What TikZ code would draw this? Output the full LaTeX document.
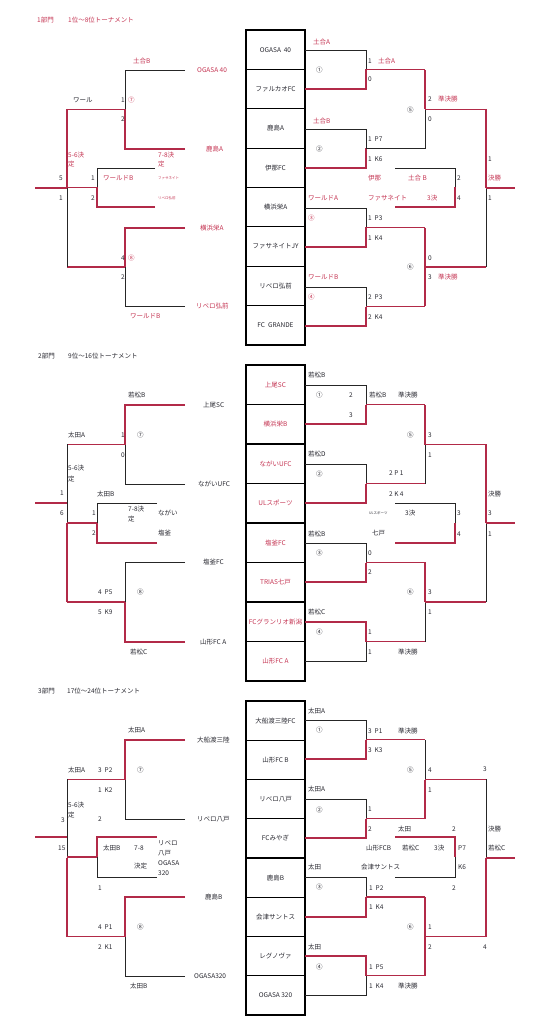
\documentclass[tikz,border=0pt]{standalone}
\usepackage{fontspec}
\setmainfont{Noto Sans CJK JP}
\usetikzlibrary{positioning}
\definecolor{linered}{RGB}{178,42,72}
\definecolor{textred}{RGB}{196,52,82}
\definecolor{textdark}{RGB}{40,40,48}

% one match: in-lines from #1 to #2 at rows #3/#4, out-line to #5
\newcommand{\match}[8]{%
  \draw[#6] (#1,#3) -- (#2,#3) -- (#2,{(#3+#4)/2});
  \draw[#7] (#1,#4) -- (#2,#4) -- (#2,{(#3+#4)/2});
  \draw[#8] (#2,{(#3+#4)/2}) -- (#5,{(#3+#4)/2});}

\begin{document}
\begin{tikzpicture}[x=1pt, y=-1pt,
    loseline/.style={draw=black!85, line width=0.6pt},
    winline/.style={draw=linered, line width=1.4pt},
    noline/.style={draw=none},
    lbl/.style={font=\fontsize{6.5}{7}\selectfont, inner sep=0pt, anchor=west, text=textdark},
    rlbl/.style={lbl, text=textred},
    tinylbl/.style={lbl, font=\fontsize{3.5}{4}\selectfont, text=textred},
    team/.style={font=\fontsize{6.5}{7}\selectfont, inner sep=0pt, text=textdark},
    rteam/.style={team, text=textred},
    box/.style={draw=black, line width=1.4pt},
    ]
    \useasboundingbox (0,0) rectangle (555,1024);

    % team boxes
    \foreach \top/\bot in {30/345, 365/681, 701/1015} {
      \draw[box] (246,\top) rectangle (305,\bot);
      \foreach \k in {1,...,7}
        \draw[line width=1.1pt] (246,{\top+(\bot-\top)*\k/8}) -- (305,{\top+(\bot-\top)*\k/8});
    }
    \foreach \t [count=\i] in {OGASA\ \ 40, ファルカオFC, 鹿島A, 伊那FC, 横浜栄A, ファサネイトJY, リベロ弘前, FC\ \ GRANDE}
      \node[team] (a\i) at (275.5,{30+39.375*(\i-0.5)}) {\t};
    \foreach \t [count=\i] in {上尾SC, 横浜栄B, ながいUFC, ULスポーツ, 塩釜FC, TRIAS七戸, FCグランリオ新潟, 山形FC A}
      \node[rteam] (b\i) at (275.5,{365+39.5*(\i-0.5)}) {\t};
    \foreach \t [count=\i] in {大船渡三陸FC, 山形FC B, リベロ八戸, FCみやぎ, 鹿島B, 会津サントス, レグノヴァ, OGASA 320}
      \node[team] (c\i) at (275.5,{701+39.25*(\i-0.5)}) {\t};

    % ---------- 1部門 ----------
    \node[rlbl] (u1) at (37,20) {1部門};
    \node[rlbl] (u2) at (68,20) {1位～8位トーナメント};
    % right side
    \match{305}{366}{50}{89}{425}{loseline}{winline}{winline}
    \match{305}{366}{129}{168}{425}{loseline}{winline}{loseline}
    \match{305}{366}{208}{247}{425}{loseline}{winline}{winline}
    \match{305}{366}{287}{326}{425}{loseline}{winline}{winline}
    \match{425}{425}{70}{149}{486}{winline}{loseline}{winline}
    \match{425}{425}{228}{306}{486}{winline}{winline}{winline}
    \match{486}{486}{109}{267}{515}{winline}{loseline}{winline}
    \match{395}{455}{168}{207}{455}{loseline}{winline}{noline}
    % left side
    \match{185}{125}{70}{149}{67}{loseline}{winline}{winline}
    \match{185}{125}{228}{306}{67}{winline}{loseline}{winline}
    \match{67}{67}{109}{267}{35}{winline}{loseline}{winline}
    \match{155}{97}{168}{207}{67}{loseline}{winline}{winline}
    % labels right
    \node[rlbl] (u3) at (313,42) {土合A};
    \node[lbl] (u4) at (316,70) {①};
    \node[lbl] (u5) at (368,61) {1};
    \node[rlbl] (u6) at (378,61) {土合A};
    \node[lbl] (u7) at (368,79) {0};
    \node[rlbl] (u8) at (313,121) {土合B};
    \node[lbl] (u9) at (316,149) {②};
    \node[lbl] (u10) at (368,139) {1\ \ P7};
    \node[lbl] (u11) at (368,159) {1\ \ K6};
    \node[lbl] (u12) at (407,110) {⑤};
    \node[lbl] (u13) at (428,99) {2};
    \node[rlbl] (u14) at (438,99) {準決勝};
    \node[lbl] (u15) at (428,119) {0};
    \node[lbl] (u16) at (488,159) {1};
    \node[rlbl] (u17) at (368,178) {伊那};
    \node[rlbl] (u18) at (408,178) {土合\ B};
    \node[lbl] (u19) at (457,178) {2};
    \node[rlbl] (u20) at (488,178) {決勝};
    \node[rlbl] (u21) at (308,198) {ワールドA};
    \node[rlbl] (u22) at (368,198) {ファサネイト};
    \node[rlbl] (u23) at (427,198) {3決};
    \node[lbl] (u24) at (457,198) {4};
    \node[lbl] (u25) at (488,198) {1};
    \node[rlbl] (u26) at (308,218) {③};
    \node[lbl] (u27) at (368,218) {1\ \ P3};
    \node[lbl] (u28) at (368,238) {1\ \ K4};
    \node[lbl] (u29) at (407,267) {⑥};
    \node[lbl] (u30) at (428,258) {0};
    \node[lbl] (u31) at (428,277) {3};
    \node[rlbl] (u32) at (438,277) {準決勝};
    \node[rlbl] (u33) at (308,277) {ワールドB};
    \node[rlbl] (u34) at (308,297) {④};
    \node[lbl] (u35) at (368,297) {2\ \ P3};
    \node[lbl] (u36) at (368,317) {2\ \ K4};
    % labels left
    \node[rlbl] (u37) at (133,61) {土合B};
    \node[rlbl] (u38) at (197,70) {OGASA\ 40};
    \node[lbl] (u39) at (73,100) {ワール};
    \node[lbl] (u40) at (121,100) {1};
    \node[rlbl] (u41) at (128,100) {⑦};
    \node[lbl] (u42) at (121,119) {2};
    \node[rlbl] (u43) at (206,149) {鹿島A};
    \node[rlbl] (u44) at (68,155) {5-6決};
    \node[rlbl] (u45) at (68,164) {定};
    \node[rlbl] (u46) at (158,155) {7-8決};
    \node[rlbl] (u47) at (158,164) {定};
    \node[lbl] (u48) at (59,178) {5};
    \node[lbl] (u49) at (59,198) {1};
    \node[lbl] (u50) at (91,178) {1};
    \node[rlbl] (u51) at (103,178) {ワールドB};
    \node[tinylbl] (u52) at (158,178) {ファサネイト};
    \node[lbl] (u53) at (91,198) {2};
    \node[tinylbl] (u54) at (158,198) {リベロ弘前};
    \node[rlbl] (u55) at (200,228) {横浜栄A};
    \node[lbl] (u56) at (121,258) {4};
    \node[rlbl] (u57) at (128,258) {⑧};
    \node[lbl] (u58) at (121,277) {2};
    \node[rlbl] (u59) at (196,306) {リベロ弘前};
    \node[rlbl] (u60) at (130,316) {ワールドB};

    % ---------- 2部門 ----------
    \node[lbl] (v1) at (38,356) {2部門};
    \node[lbl] (v2) at (68,356) {9位～16位トーナメント};
    % right side
    \match{305}{366}{385}{424}{425}{loseline}{winline}{winline}
    \match{305}{366}{464}{503}{425}{loseline}{winline}{winline}
    \match{425}{425}{405}{484}{486}{winline}{loseline}{winline}
    \match{305}{366}{543}{582}{425}{loseline}{winline}{winline}
    \match{305}{366}{622}{661}{425}{winline}{loseline}{winline}
    \match{425}{425}{562}{642}{486}{winline}{loseline}{winline}
    \match{486}{486}{444}{602}{515}{winline}{loseline}{winline}
    \match{395}{455}{503}{543}{455}{loseline}{winline}{noline}
    % left side
    \match{185}{125}{405}{484}{67}{winline}{loseline}{winline}
    \match{185}{125}{562}{642}{67}{loseline}{winline}{winline}
    \match{67}{67}{444}{602}{67}{loseline}{winline}{noline}
    \draw[winline] (67,503) -- (35,503);
    \match{157}{97}{503}{543}{67}{loseline}{winline}{winline}
    % labels right
    \node[lbl] (v3) at (308,375) {若松B};
    \node[lbl] (v4) at (316,395) {①};
    \node[lbl] (v5) at (349,395) {2};
    \node[lbl] (v6) at (349,415) {3};
    \node[lbl] (v7) at (369,395) {若松B};
    \node[lbl] (v8) at (398,395) {準決勝};
    \node[lbl] (v9) at (407,435) {⑤};
    \node[lbl] (v10) at (428,435) {3};
    \node[lbl] (v11) at (428,455) {1};
    \node[lbl] (v12) at (308,454) {若松D};
    \node[lbl] (v13) at (316,474) {②};
    \node[lbl] (v14) at (389,473) {2\ P\ 1};
    \node[lbl] (v15) at (389,494) {2\ K\ 4};
    \node[lbl] (v16) at (488,494) {決勝};
    \node[lbl] (v17) at (488,513) {3};
    \node[lbl] (v18) at (488,534) {1};
    \node[tinylbl, text=textdark] (v19) at (369,513) {ULスポーツ};
    \node[lbl] (v20) at (405,513) {3決};
    \node[lbl] (v21) at (457,513) {3};
    \node[lbl] (v22) at (457,534) {4};
    \node[lbl] (v23) at (372,533) {七戸};
    \node[lbl] (v24) at (308,534) {若松B};
    \node[lbl] (v25) at (316,553) {③};
    \node[lbl] (v26) at (368,553) {0};
    \node[lbl] (v27) at (368,572) {2};
    \node[lbl] (v28) at (407,592) {⑥};
    \node[lbl] (v29) at (428,592) {3};
    \node[lbl] (v30) at (428,612) {1};
    \node[lbl] (v31) at (308,612) {若松C};
    \node[lbl] (v32) at (316,632) {④};
    \node[lbl] (v33) at (368,632) {1};
    \node[lbl] (v34) at (368,652) {1};
    \node[lbl] (v35) at (398,652) {準決勝};
    % labels left
    \node[lbl] (v36) at (128,395) {若松B};
    \node[lbl] (v37) at (203,405) {上尾SC};
    \node[lbl] (v38) at (68,435) {太田A};
    \node[lbl] (v39) at (121,435) {1};
    \node[lbl] (v40) at (137,435) {⑦};
    \node[lbl] (v41) at (121,455) {0};
    \node[lbl] (v42) at (68,468) {5-6決};
    \node[lbl] (v43) at (68,479) {定};
    \node[lbl] (v44) at (198,484) {ながいUFC};
    \node[lbl] (v45) at (60,493) {1};
    \node[lbl] (v46) at (60,513) {6};
    \node[lbl] (v47) at (97,494) {太田B};
    \node[lbl] (v48) at (128,509) {7-8決};
    \node[lbl] (v49) at (128,519) {定};
    \node[lbl] (v50) at (92,513) {1};
    \node[lbl] (v51) at (158,513) {ながい};
    \node[lbl] (v52) at (92,533) {2};
    \node[lbl] (v53) at (158,533) {塩釜};
    \node[lbl] (v54) at (203,562) {塩釜FC};
    \node[lbl] (v55) at (98,592) {4\ \ P5};
    \node[lbl] (v56) at (137,592) {⑧};
    \node[lbl] (v57) at (98,612) {5\ \ K9};
    \node[lbl] (v58) at (200,642) {山形FC A};
    \node[lbl] (v59) at (130,652) {若松C};

    % ---------- 3部門 ----------
    \node[lbl] (w1) at (38,691) {3部門};
    \node[lbl] (w2) at (67,691) {17位～24位トーナメント};
    % right side
    \match{305}{366}{720}{759}{425}{loseline}{winline}{winline}
    \match{305}{366}{799}{838}{425}{loseline}{winline}{winline}
    \match{425}{425}{740}{819}{486}{loseline}{winline}{winline}
    \match{305}{366}{877}{917}{425}{loseline}{winline}{winline}
    \match{305}{366}{956}{995}{425}{winline}{loseline}{winline}
    \match{425}{425}{897}{976}{486}{winline}{winline}{winline}
    \match{486}{486}{779}{937}{515}{loseline}{winline}{winline}
    \match{395}{455}{837}{877}{455}{winline}{loseline}{noline}
    % left side
    \match{185}{125}{740}{819}{67}{winline}{loseline}{winline}
    \match{185}{125}{897}{976}{67}{winline}{loseline}{winline}
    \match{67}{67}{779}{937}{67}{loseline}{winline}{noline}
    \draw[winline] (67,837) -- (35,837);
    \match{157}{97}{837}{877}{67}{winline}{loseline}{winline}
    % labels right
    \node[lbl] (w3) at (308,711) {太田A};
    \node[lbl] (w4) at (316,730) {①};
    \node[lbl] (w5) at (368,731) {3\ \ P1};
    \node[lbl] (w6) at (398,731) {準決勝};
    \node[lbl] (w7) at (368,750) {3\ \ K3};
    \node[lbl] (w8) at (407,770) {⑤};
    \node[lbl] (w9) at (428,770) {4};
    \node[lbl] (w10) at (483,769) {3};
    \node[lbl] (w11) at (308,789) {太田A};
    \node[lbl] (w12) at (368,809) {1};
    \node[lbl] (w13) at (428,790) {1};
    \node[lbl] (w14) at (316,810) {②};
    \node[lbl] (w15) at (368,829) {2};
    \node[lbl] (w16) at (398,829) {太田};
    \node[lbl] (w17) at (452,829) {2};
    \node[lbl] (w18) at (488,829) {決勝};
    \node[lbl] (w19) at (366,848) {山形FCB};
    \node[lbl] (w20) at (402,848) {若松C};
    \node[lbl] (w21) at (434,848) {3決};
    \node[lbl] (w22) at (458,848) {P7};
    \node[lbl] (w23) at (488,848) {若松C};
    \node[lbl] (w24) at (308,867) {太田};
    \node[lbl] (w25) at (361,867) {会津サントス};
    \node[lbl] (w26) at (458,867) {K6};
    \node[lbl] (w27) at (316,887) {③};
    \node[lbl] (w28) at (369,888) {1\ \ P2};
    \node[lbl] (w29) at (452,888) {2};
    \node[lbl] (w30) at (369,907) {1\ \ K4};
    \node[lbl] (w31) at (407,927) {⑥};
    \node[lbl] (w32) at (428,927) {1};
    \node[lbl] (w33) at (308,947) {太田};
    \node[lbl] (w34) at (428,947) {2};
    \node[lbl] (w35) at (483,947) {4};
    \node[lbl] (w36) at (316,967) {④};
    \node[lbl] (w37) at (369,967) {1\ \ P5};
    \node[lbl] (w38) at (369,986) {1\ \ K4};
    \node[lbl] (w39) at (398,986) {準決勝};
    % labels left
    \node[lbl] (w40) at (128,730) {太田A};
    \node[lbl] (w41) at (197,740) {大船渡三陸};
    \node[lbl] (w42) at (68,770) {太田A};
    \node[lbl] (w43) at (98,770) {3\ \ P2};
    \node[lbl] (w44) at (137,770) {⑦};
    \node[lbl] (w45) at (98,790) {1\ \ K2};
    \node[lbl] (w46) at (68,805) {5-6決};
    \node[lbl] (w47) at (68,815) {定};
    \node[lbl] (w48) at (197,819) {リベロ八戸};
    \node[lbl] (w49) at (61,820) {3};
    \node[lbl] (w50) at (98,819) {2};
    \node[lbl] (w51) at (58,848) {15};
    \node[lbl] (w52) at (103,848) {太田B};
    \node[lbl] (w53) at (134,848) {7-8};
    \node[lbl] (w54) at (158,843) {リベロ};
    \node[lbl] (w55) at (158,853) {八戸};
    \node[lbl] (w56) at (134,866) {決定};
    \node[lbl] (w57) at (158,863) {OGASA};
    \node[lbl] (w58) at (158,873) {320};
    \node[lbl] (w59) at (98,888) {1};
    \node[lbl] (w60) at (205,897) {鹿島B};
    \node[lbl] (w61) at (98,927) {4\ \ P1};
    \node[lbl] (w62) at (137,927) {⑧};
    \node[lbl] (w63) at (98,947) {2\ \ K1};
    \node[lbl] (w64) at (194,976) {OGASA320};
    \node[lbl] (w65) at (130,986) {太田B};
\end{tikzpicture}
\end{document}
